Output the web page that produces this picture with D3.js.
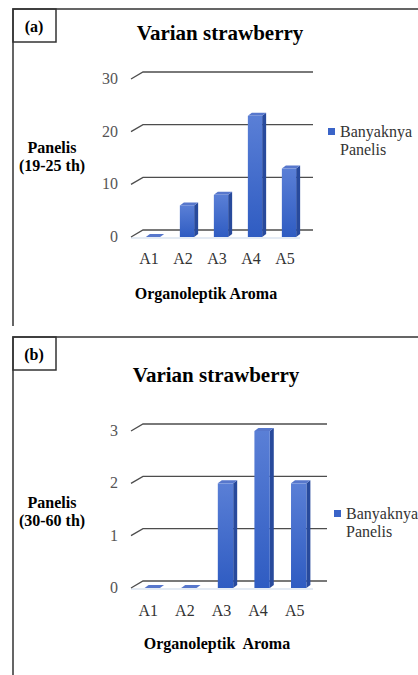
<!DOCTYPE html>
<head>
    <meta charset="utf-8">
    <title>Varian strawberry</title>
    <script src="https://d3js.org/d3.v7.min.js"></script>
    <style>
        body { margin: 0; background: #fff; }
    </style>
</head>
<body>
<svg id="chart" width="418" height="675"></svg>
<script>
    // data
    const categories = ["A1", "A2", "A3", "A4", "A5"];
    const valuesA = [0, 6, 8, 23, 13];
    const valuesB = [0, 0, 2, 3, 2];
    const ticksA = [0, 10, 20, 30];
    const ticksB = [0, 1, 2, 3];
    const legendLines = ["Banyaknya", "Panelis"];

    var FONT = "Liberation Serif";
    var svg = d3.select("#chart");

    var defs = svg.append("defs");
    var grad = defs.append("linearGradient").attr("id", "front")
        .attr("x1", 0).attr("y1", 0).attr("x2", 0).attr("y2", 1);
    grad.append("stop").attr("offset", "0%").attr("stop-color", "#5a7fd6");
    grad.append("stop").attr("offset", "100%").attr("stop-color", "#2f5cc2");

    function txt(sel) {
        return sel.append("text").style("font-family", FONT);
    }

    function drawPanel(p) {
        var g = svg.append("g");

        // outer frame + label box
        g.append("path")
            .attr("d", "M13," + p.bottom + "V" + p.top + "H420")
            .attr("fill", "none").attr("stroke", "#333").attr("stroke-width", 1.5);
        g.append("rect")
            .attr("x", 13).attr("y", p.top).attr("width", 43).attr("height", 33)
            .attr("fill", "none").attr("stroke", "#333").attr("stroke-width", 1.5);
        txt(g).attr("x", 34).attr("y", p.top + 23)
            .attr("text-anchor", "middle").attr("font-weight", "bold").attr("font-size", 16)
            .text(p.label);

        txt(g).attr("x", p.titleX).attr("y", p.titleY)
            .attr("text-anchor", "middle").attr("font-weight", "bold").attr("font-size", 21)
            .text("Varian strawberry");

        var y = d3.scaleLinear().domain(p.domain).range(p.yRange);
        var x = d3.scaleBand().domain(categories).range(p.xRange)
            .paddingInner(0.58).paddingOuter(0.29);
        var bdx = 12, bdy = -7;   // back wall offset
        var ddx = 4, ddy = -3;    // bar depth

        // floor
        g.append("path")
            .attr("d", "M131," + (y(0) + 1) + "H" + p.floorEnd)
            .attr("stroke", "#dbe4f1").attr("stroke-width", 1.5).attr("fill", "none");

        // gridlines with diagonal from front to back
        g.selectAll(".grid").data(p.ticks).enter().append("path")
            .attr("d", function(d) {
                return "M131," + y(d) + "L" + (131 + bdx) + "," + (y(d) + bdy) + "H" + p.gridEnd;
            })
            .attr("fill", "none").attr("stroke", "#4d4d4d").attr("stroke-width", 1.3);

        g.selectAll(".tick").data(p.ticks).enter().append("text")
            .style("font-family", FONT)
            .attr("x", 118).attr("y", function(d) { return y(d) + 5; })
            .attr("text-anchor", "end").attr("font-size", 16).attr("fill", "#555")
            .text(function(d) { return d; });

        var values = p.values;
        var bars = g.selectAll(".bar").data(categories).enter().append("g");
        bars.append("path")
            .attr("d", function(d, i) {
                var x0 = x(d) + x.bandwidth(), yt = y(values[i]), yb = y(0);
                return "M" + x0 + "," + yt + "l" + ddx + "," + ddy + "V" + (yb + ddy) + "l" + (-ddx) + "," + (-ddy) + "Z";
            })
            .attr("fill", "#284a9c");
        bars.append("path")
            .attr("d", function(d, i) {
                var x0 = x(d), yt = y(values[i]);
                return "M" + x0 + "," + yt + "l" + ddx + "," + ddy + "h" + x.bandwidth() + "l" + (-ddx) + "," + (-ddy) + "Z";
            })
            .attr("fill", "#5777cc");
        bars.append("rect")
            .attr("x", function(d) { return x(d); })
            .attr("y", function(d, i) { return y(values[i]); })
            .attr("width", x.bandwidth())
            .attr("height", function(d, i) { return y(0) - y(values[i]); })
            .attr("fill", "url(#front)");

        g.selectAll(".cat").data(categories).enter().append("text")
            .style("font-family", FONT)
            .attr("x", function(d) { return x(d) + x.bandwidth() / 2 - 4; })
            .attr("y", p.catY)
            .attr("text-anchor", "middle").attr("font-size", 16).attr("fill", "#333")
            .text(function(d) { return d; });

        txt(g).attr("x", p.xTitleX).attr("y", p.xTitleY)
            .attr("text-anchor", "middle").attr("font-weight", "bold").attr("font-size", 16)
            .style("white-space", "pre")
            .text(p.xTitle);

        g.selectAll(".ytitle").data(p.yTitle).enter().append("text")
            .style("font-family", FONT)
            .attr("x", 52).attr("y", function(d, i) { return p.yTitleY + i * 18; })
            .attr("text-anchor", "middle").attr("font-weight", "bold").attr("font-size", 16)
            .text(function(d) { return d; });

        g.append("rect").attr("x", p.legX).attr("y", p.legY - 9).attr("width", 7).attr("height", 7)
            .attr("fill", "#3a64c8");
        g.selectAll(".leg").data(legendLines).enter().append("text")
            .style("font-family", FONT)
            .attr("x", p.legX + 12).attr("y", function(d, i) { return p.legY + i * 18; })
            .attr("font-size", 16).attr("fill", "#333")
            .text(function(d) { return d; });
    }

    drawPanel({
        label: "(a)", top: 9, bottom: 326,
        titleX: 220, titleY: 40,
        domain: [0, 30], yRange: [237, 79], ticks: ticksA,
        xRange: [136, 306], values: valuesA,
        gridEnd: 313, floorEnd: 300,
        catY: 264,
        xTitle: "Organoleptik Aroma", xTitleX: 206, xTitleY: 299,
        yTitle: ["Panelis", "(19-25 th)"], yTitleY: 153,
        legX: 328, legY: 137
    });

    drawPanel({
        label: "(b)", top: 337, bottom: 680,
        titleX: 216, titleY: 382,
        domain: [0, 3], yRange: [588, 431], ticks: ticksB,
        xRange: [134, 317], values: valuesB,
        gridEnd: 327, floorEnd: 313,
        catY: 616,
        xTitle: "Organoleptik  Aroma", xTitleX: 217, xTitleY: 649,
        yTitle: ["Panelis", "(30-60 th)"], yTitleY: 508,
        legX: 334, legY: 519
    });
</script>
</body>
